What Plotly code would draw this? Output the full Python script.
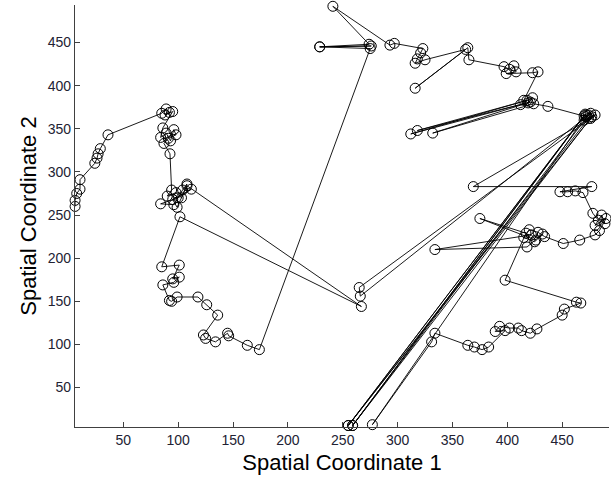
import plotly.graph_objects as go

# Trajectory (Spatial Coordinate 1, Spatial Coordinate 2), in visiting order
coord1 = [6, 6, 7.5, 10.5, 10.5, 24, 26, 27, 29, 36,
          85, 89, 92, 88, 95,
          86, 84, 89, 93, 96, 98, 91, 87,
          92.5,
          94, 90, 98, 103, 108, 104, 96, 84, 100, 112, 95, 99, 108,
          267, 101.6,
          85, 101, 95, 101, 96, 86, 92, 94, 99, 118, 126, 136, 123, 125, 134, 145, 146, 163, 174,
          275, 229, 276, 229, 274, 241, 293, 297, 323, 321, 318, 316, 325, 362, 316, 364, 365,
          397, 402, 406, 408, 399, 423, 428,
          415, 419, 423, 412, 312, 418, 318, 421, 332, 424, 437,
          472, 476, 470, 480, 474, 255, 471, 259, 477, 255, 470, 259, 474, 266, 265, 476,
          369, 477, 448, 455, 462, 469, 478, 483, 489, 486, 480, 490, 484, 480, 466, 451,
          434, 428, 420, 415, 425, 432, 418, 334, 422, 426, 375, 417, 398,
          463, 467, 452, 450, 427, 421, 413, 410, 402, 393, 389, 398, 383, 377, 370, 364,
          334, 331, 277, 472]
coord2 = [260, 267, 275, 280, 291, 310, 316, 321, 327, 343,
          368, 373, 369, 366, 370,
          351, 340, 345, 336, 349, 343, 339, 333,
          321,
          279, 272, 276, 270, 286, 279, 262, 263, 270, 280, 268, 259, 284,
          144, 248,
          190, 192, 176, 178, 172, 169, 151, 150, 155, 155, 146, 134, 111, 107, 103, 113, 110, 99, 94,
          443, 445, 446, 445, 448, 492, 447, 449, 443, 438, 431, 426, 430, 442, 397, 444, 430,
          422, 419, 423, 416, 414, 415, 416,
          383, 380, 386, 378, 344, 383, 348, 381, 345, 379, 376,
          364, 368, 360, 366, 362, 6, 367, 6, 364, 6, 365, 6, 366, 156, 166, 362,
          283, 283, 277, 277, 278, 276, 252, 244, 240, 250, 238, 246, 232, 227, 221, 217,
          225, 230, 233, 224, 219, 228, 213, 210, 227, 221, 246, 229, 174.5,
          149, 148, 141, 134, 118, 113, 116, 119, 119, 121, 115, 116, 97, 94, 97, 99,
          113, 103, 7, 366]

x_ticks = [50, 100, 150, 200, 250, 300, 350, 400, 450]
y_ticks = [50, 100, 150, 200, 250, 300, 350, 400, 450]
x_title = "Spatial Coordinate 1"
y_title = "Spatial Coordinate 2"

fig = go.Figure()
fig.add_trace(go.Scatter(
    x=coord1, y=coord2, mode="lines+markers",
    line=dict(color="black", width=0.9),
    marker=dict(symbol="circle-open", size=10, color="black", line=dict(width=1)),
    showlegend=False, hoverinfo="skip", cliponaxis=False,
))

axis_common = dict(
    showgrid=False, zeroline=False, showline=True, linecolor="#404040", linewidth=1.2,
    ticks="inside", ticklen=5, tickcolor="#404040", tickwidth=1,
    tickfont=dict(family="Liberation Sans, Arial", size=14, color="#222233"),
    mirror=False,
)

fig.update_layout(
    width=611, height=479,
    margin=dict(l=75, r=2, t=5, b=52),
    paper_bgcolor="white", plot_bgcolor="white",
    xaxis=dict(range=[5.93, 492.7], tickvals=x_ticks,
               title=dict(text=x_title, font=dict(family="Liberation Sans, Arial", size=22, color="black"),
                          standoff=7),
               **axis_common),
    yaxis=dict(range=[4.3, 493.5], tickvals=y_ticks,
               title=dict(text=y_title, font=dict(family="Liberation Sans, Arial", size=22, color="black"),
                          standoff=5),
               **axis_common),
)

fig.write_html("out.html")
